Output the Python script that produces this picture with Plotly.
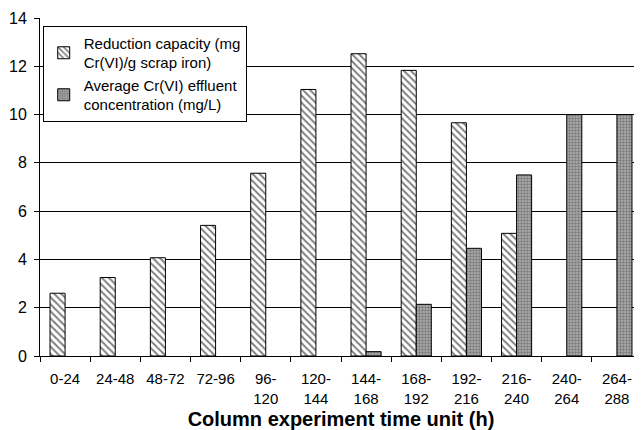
import plotly.graph_objects as go

# Time units (h) of the column experiment
time_units = ["0-24", "24-48", "48-72", "72-96", "96-<br>120", "120-<br>144", "144-<br>168",
              "168-<br>192", "192-<br>216", "216-<br>240", "240-<br>264", "264-<br>288"]

# Reduction capacity (mg Cr(VI)/g scrap iron)
reduction_capacity = [2.6, 3.25, 4.07, 5.41, 7.57, 11.04, 12.52, 11.83, 9.66, 5.08, None, None]

# Average Cr(VI) effluent concentration (mg/L)
effluent_conc = [None, None, None, None, None, None, 0.18, 2.14, 4.46, 7.5, 10.0, 10.0]

FONT = "Arial, Liberation Sans, sans-serif"

fig = go.Figure()

fig.add_trace(go.Bar(
    x=time_units, y=reduction_capacity,
    name="Reduction capacity (mg<br>Cr(VI)/g scrap iron)",
    marker=dict(color="white", line=dict(color="black", width=1),
                pattern=dict(shape="\\", fgcolor="black", bgcolor="white", size=5, solidity=0.4)),
))

fig.add_trace(go.Bar(
    x=time_units, y=effluent_conc,
    name="Average Cr(VI) effluent<br>concentration (mg/L)",
    marker=dict(color="#9a9a9a", line=dict(color="black", width=1),
                pattern=dict(shape=".", fgcolor="#444444", bgcolor="#b0b0b0", size=3, solidity=0.5)),
))

# the page body keeps its 8px margin, so the figure is sized to end at the window edge
fig.update_layout(
    width=634, height=422,
    margin=dict(l=32, r=0, t=10, b=74, autoexpand=False),
    paper_bgcolor="white", plot_bgcolor="white",
    font=dict(family=FONT, size=15, color="black"),
    barmode="group", bargap=0.4, bargroupgap=0,
    showlegend=True,
    legend=dict(x=0.0045, y=0.977, xanchor="left", yanchor="top",
                bgcolor="white", bordercolor="black", borderwidth=1,
                font=dict(family=FONT, size=15)),
)

fig.update_xaxes(
    type="category", tickson="boundaries", ticks="outside", ticklen=5,
    tickcolor="black", showline=True, linecolor="black", linewidth=1,
    showgrid=False, tickangle=0, automargin=False, ticklabelstandoff=9,
    title=dict(text="<b>Column experiment time unit (h)</b>",
               font=dict(family=FONT, size=20), standoff=10),
)

fig.update_yaxes(
    range=[0, 14], dtick=2, ticks="outside", ticklen=5, tickcolor="black",
    showline=True, linecolor="black", linewidth=1, automargin=False,
    ticklabelstandoff=4, tickfont=dict(size=16),
    showgrid=True, gridcolor="black", gridwidth=1, zeroline=False,
)

fig.write_html("out.html")
